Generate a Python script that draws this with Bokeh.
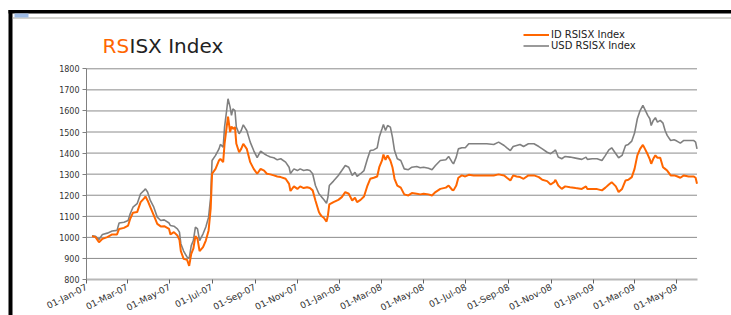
import math
import pandas as pd
from bokeh.plotting import figure
from bokeh.models import (Range1d, FixedTicker, DatetimeTickFormatter, Label,
                          Legend, LegendItem, BoxAnnotation, LinearAxis, DatetimeAxis)
from bokeh.embed import file_html
from bokeh.resources import INLINE

# ---------------- data ----------------
dates = [
    "2007-01-09", "2007-01-14", "2007-01-19", "2007-01-24", "2007-01-31", "2007-02-07",
    "2007-02-14", "2007-02-17", "2007-02-24", "2007-03-02", "2007-03-05", "2007-03-09",
    "2007-03-15", "2007-03-20", "2007-03-25", "2007-03-27", "2007-03-30", "2007-04-03",
    "2007-04-08", "2007-04-13", "2007-04-18", "2007-04-23", "2007-04-30", "2007-05-02",
    "2007-05-07", "2007-05-12", "2007-05-15", "2007-05-17", "2007-05-21", "2007-05-26",
    "2007-05-29", "2007-06-01", "2007-06-04", "2007-06-07", "2007-06-10", "2007-06-13",
    "2007-06-18", "2007-06-22", "2007-06-26", "2007-06-29", "2007-07-01", "2007-07-06",
    "2007-07-11", "2007-07-13", "2007-07-17", "2007-07-19", "2007-07-22", "2007-07-24",
    "2007-07-27", "2007-07-29", "2007-07-31", "2007-08-03", "2007-08-05", "2007-08-09",
    "2007-08-12", "2007-08-15", "2007-08-20", "2007-08-25", "2007-08-30", "2007-09-04",
    "2007-09-09", "2007-09-14", "2007-09-18", "2007-09-23", "2007-09-28", "2007-10-03",
    "2007-10-08", "2007-10-15", "2007-10-20", "2007-10-22", "2007-10-27", "2007-11-01",
    "2007-11-05", "2007-11-10", "2007-11-15", "2007-11-19", "2007-11-23", "2007-11-27",
    "2007-12-02", "2007-12-04", "2007-12-06", "2007-12-09", "2007-12-13", "2007-12-15",
    "2007-12-17", "2007-12-23", "2007-12-30", "2008-01-04", "2008-01-09", "2008-01-14",
    "2008-01-19", "2008-01-23", "2008-01-26", "2008-01-31", "2008-02-05", "2008-02-10",
    "2008-02-14", "2008-02-19", "2008-02-24", "2008-02-27", "2008-03-02", "2008-03-04",
    "2008-03-07", "2008-03-10", "2008-03-14", "2008-03-17", "2008-03-20", "2008-03-24",
    "2008-03-29", "2008-04-03", "2008-04-09", "2008-04-14", "2008-04-21", "2008-04-26",
    "2008-05-01", "2008-05-08", "2008-05-13", "2008-05-18", "2008-05-25", "2008-06-02",
    "2008-06-06", "2008-06-11", "2008-06-13", "2008-06-17", "2008-06-20", "2008-06-25",
    "2008-06-30", "2008-07-05", "2008-07-12", "2008-07-22", "2008-07-31", "2008-08-10",
    "2008-08-17", "2008-08-25", "2008-08-29", "2008-09-03", "2008-09-07", "2008-09-12",
    "2008-09-17", "2008-09-22", "2008-09-29", "2008-10-07", "2008-10-14", "2008-10-19",
    "2008-10-26", "2008-10-31", "2008-11-05", "2008-11-07", "2008-11-11", "2008-11-16",
    "2008-11-21", "2008-11-28", "2008-12-06", "2008-12-15", "2008-12-21", "2008-12-23",
    "2008-12-30", "2009-01-06", "2009-01-13", "2009-01-18", "2009-01-23", "2009-01-27",
    "2009-02-02", "2009-02-06", "2009-02-11", "2009-02-16", "2009-02-20", "2009-02-25",
    "2009-03-01", "2009-03-05", "2009-03-09", "2009-03-13", "2009-03-16", "2009-03-20",
    "2009-03-23", "2009-03-25", "2009-03-28", "2009-03-31", "2009-04-03", "2009-04-07",
    "2009-04-11", "2009-04-14", "2009-04-17", "2009-04-22", "2009-04-27", "2009-05-01",
    "2009-05-06", "2009-05-11", "2009-05-18", "2009-05-25", "2009-05-28", "2009-05-30",
]

usd_rsisx = [
    1008, 1005, 990, 1014, 1020, 1030,
    1033, 1068, 1072, 1080, 1112, 1143,
    1160, 1207, 1223, 1230, 1215, 1175,
    1143, 1096, 1080, 1083, 1068, 1056,
    1053, 1040, 1025, 970, 935, 906,
    900, 961, 985, 1049, 1040, 985,
    1017, 1049, 1096, 1191, 1365, 1389,
    1420, 1441, 1428, 1523, 1602, 1658,
    1618, 1579, 1610, 1602, 1523, 1492,
    1507, 1534, 1507, 1452, 1412, 1378,
    1409, 1397, 1389, 1381, 1378, 1368,
    1373, 1357, 1333, 1303, 1325, 1317,
    1325, 1317, 1321, 1317, 1302, 1246,
    1207, 1200, 1191, 1180, 1162, 1191,
    1246, 1267, 1294, 1317, 1341, 1333,
    1294, 1309, 1289, 1302, 1317, 1373,
    1412, 1415, 1425, 1476, 1515, 1536,
    1507, 1531, 1523, 1476, 1412, 1373,
    1365, 1325, 1321, 1333, 1336, 1330,
    1333, 1328, 1321, 1341, 1365, 1368,
    1384, 1357, 1349, 1381, 1420, 1425,
    1425, 1444, 1444, 1444, 1444, 1441,
    1452, 1436, 1425, 1412, 1431, 1436,
    1441, 1431, 1444, 1444, 1431, 1420,
    1404, 1397, 1409, 1415, 1381, 1373,
    1384, 1381, 1376, 1370, 1381, 1370,
    1373, 1373, 1365, 1389, 1415, 1425,
    1397, 1378, 1389, 1436, 1441, 1457,
    1495, 1563, 1602, 1626, 1606, 1579,
    1563, 1531, 1555, 1568, 1547, 1555,
    1542, 1507, 1484, 1460, 1463, 1457,
    1447, 1460, 1460, 1460, 1452, 1420,
]

id_rsisx = [
    1006, 1001, 977, 993, 1001, 1014,
    1014, 1040, 1045, 1056, 1088, 1117,
    1120, 1167, 1185, 1194, 1175, 1143,
    1104, 1064, 1052, 1053, 1040, 1014,
    1025, 1009, 988, 935, 898, 893,
    865, 922, 946, 1006, 993, 935,
    954, 985, 1033, 1136, 1302, 1325,
    1365, 1373, 1357, 1444, 1523, 1573,
    1500, 1526, 1515, 1523, 1444, 1404,
    1420, 1444, 1420, 1357, 1325, 1302,
    1325, 1317, 1302, 1299, 1294, 1289,
    1286, 1278, 1254, 1220, 1242, 1230,
    1242, 1234, 1238, 1234, 1223, 1175,
    1120, 1109, 1100, 1093, 1075, 1104,
    1156, 1167, 1178, 1191, 1215, 1207,
    1175, 1188, 1167, 1178, 1194, 1246,
    1278, 1283, 1289, 1333, 1365, 1393,
    1368, 1389, 1365, 1333, 1278, 1246,
    1236, 1204, 1199, 1210, 1207, 1204,
    1207, 1204, 1199, 1215, 1230, 1236,
    1246, 1226, 1223, 1246, 1283, 1294,
    1289, 1297, 1294, 1294, 1294, 1294,
    1299, 1294, 1283, 1270, 1294, 1289,
    1286, 1278, 1294, 1294, 1286, 1273,
    1267, 1251, 1262, 1273, 1246, 1230,
    1242, 1238, 1234, 1230, 1242, 1229,
    1229, 1229, 1223, 1236, 1251, 1262,
    1242, 1215, 1230, 1270, 1273, 1286,
    1325, 1389, 1420, 1439, 1420, 1393,
    1370, 1349, 1373, 1389, 1378, 1378,
    1333, 1325, 1317, 1294, 1294, 1290,
    1283, 1294, 1289, 1289, 1283, 1254,
]

y_ticks = [800, 900, 1000, 1100, 1200, 1300, 1400, 1500, 1600, 1700, 1800]
x_tick_dates = [
    "2007-01-01", "2007-03-01", "2007-05-01", "2007-07-01", "2007-09-01", "2007-11-01",
    "2008-01-01", "2008-03-01", "2008-05-01", "2008-07-01", "2008-09-01", "2008-11-01",
    "2009-01-01", "2009-03-01", "2009-05-01",
]
x_start, x_end = "2007-01-01", "2009-05-30"
y_min, y_max = 800, 1800
title_parts = ["RS", "ISX Index"]
series_labels = ["ID RSISX Index", "USD RSISX Index"]

# ---------------- layout / styling ----------------
W, H = 731, 315
PLOT_L, PLOT_R = 86.0, 696.5      # pixel extent of the plotting area
PLOT_T, PLOT_B = 68.3, 279.0
ORANGE = "#FF6600"
GREY = "#808080"
GRID = "#8c8c8c"
FONT = "DejaVu Sans"

t0 = pd.Timestamp(x_start).value / 1e6
t1 = pd.Timestamp(x_end).value / 1e6
ms_per_px = (t1 - t0) / (PLOT_R - PLOT_L)
val_per_px = (y_max - y_min) / (PLOT_B - PLOT_T)
xr = Range1d(t0 - PLOT_L * ms_per_px, t1 + (W - PLOT_R) * ms_per_px)
yr = Range1d(y_min - (H - PLOT_B) * val_per_px, y_max + PLOT_T * val_per_px)

x = pd.to_datetime(dates)
tick_ms = [pd.Timestamp(t).value / 1e6 for t in x_tick_dates]

p = figure(width=W, height=H, x_range=xr, y_range=yr,
           x_axis_location=None, y_axis_location=None,
           output_backend="svg", toolbar_location=None,
           min_border=0, min_border_left=0, min_border_right=0,
           min_border_top=0, min_border_bottom=0)
p.outline_line_color = None
p.background_fill_color = "white"
p.border_fill_color = "white"
p.grid.visible = False

# horizontal grid lines across the plotting area only
p.segment(x0=[t0] * len(y_ticks), x1=[t1] * len(y_ticks), y0=y_ticks, y1=y_ticks,
          line_color=GRID, line_width=1)

# y axis (fixed at the start of the date range)
yaxis = LinearAxis(fixed_location=t0, bounds=(y_min, y_max),
                   ticker=FixedTicker(ticks=y_ticks))
yaxis.axis_line_color = GREY
yaxis.major_tick_line_color = GREY
yaxis.major_tick_out = 4
yaxis.major_tick_in = 0
yaxis.minor_tick_line_color = None
yaxis.major_label_text_font = FONT
yaxis.major_label_text_font_size = "8px"
yaxis.major_label_text_color = "#333333"
yaxis.major_label_standoff = 3
p.add_layout(yaxis, "left")

# x axis (fixed at the bottom value)
fmt = "%d-%b-%y"
xaxis = DatetimeAxis(fixed_location=y_min, bounds=(t0, t1),
                     ticker=FixedTicker(ticks=tick_ms),
                     formatter=DatetimeTickFormatter(
                         milliseconds=fmt, seconds=fmt, minsec=fmt, minutes=fmt,
                         hourmin=fmt, hours=fmt, days=fmt, months=fmt, years=fmt))
xaxis.axis_line_color = "#b8b8b8"
xaxis.axis_line_width = 2
xaxis.major_tick_line_color = "#606060"
xaxis.major_tick_out = 4
xaxis.major_tick_in = 0
xaxis.minor_tick_line_color = None
xaxis.major_label_orientation = math.radians(27)
xaxis.major_label_text_font = FONT
xaxis.major_label_text_font_size = "9px"
xaxis.major_label_text_color = "#333333"
xaxis.major_label_standoff = 3
p.add_layout(xaxis, "below")

# series
r_usd = p.line(x, usd_rsisx, line_color=GREY, line_width=1.6)
r_id = p.line(x, id_rsisx, line_color=ORANGE, line_width=2)

legend = Legend(items=[LegendItem(label=series_labels[0], renderers=[r_id]),
                       LegendItem(label=series_labels[1], renderers=[r_usd])],
                location=(523, H - 51), glyph_width=26, glyph_height=9,
                label_height=9, label_standoff=2, spacing=0, padding=0, margin=0,
                label_text_font=FONT, label_text_font_size="10px",
                label_text_color="#222222",
                border_line_color=None, background_fill_alpha=0)
p.add_layout(legend)

# title in two colours
p.add_layout(Label(x=102, y=H - 45, x_units="screen", y_units="screen", text=title_parts[0],
                   text_color=ORANGE, text_font=FONT, text_font_size="20px",
                   text_baseline="alphabetic"))
p.add_layout(Label(x=129, y=H - 45, x_units="screen", y_units="screen", text=title_parts[1],
                   text_color="#222222", text_font=FONT, text_font_size="20px",
                   text_baseline="alphabetic"))

# window frame of the original screenshot
def screen_box(left, right, top, bottom, color):
    return BoxAnnotation(left=left, right=right, top=H - top, bottom=H - bottom,
                         left_units="screen", right_units="screen",
                         top_units="screen", bottom_units="screen",
                         fill_color=color, fill_alpha=1, line_color=None)

p.add_layout(screen_box(8, 12, 9.5, H + 2, "black"))
p.add_layout(screen_box(8, W + 2, 9.5, 13, "black"))
p.add_layout(screen_box(12, W + 2, 17, 18, "#a8a8a0"))
p.add_layout(screen_box(14, 28, 13, 17, "#9dbbe6"))

open("out.html", "w").write(file_html(p, INLINE))
